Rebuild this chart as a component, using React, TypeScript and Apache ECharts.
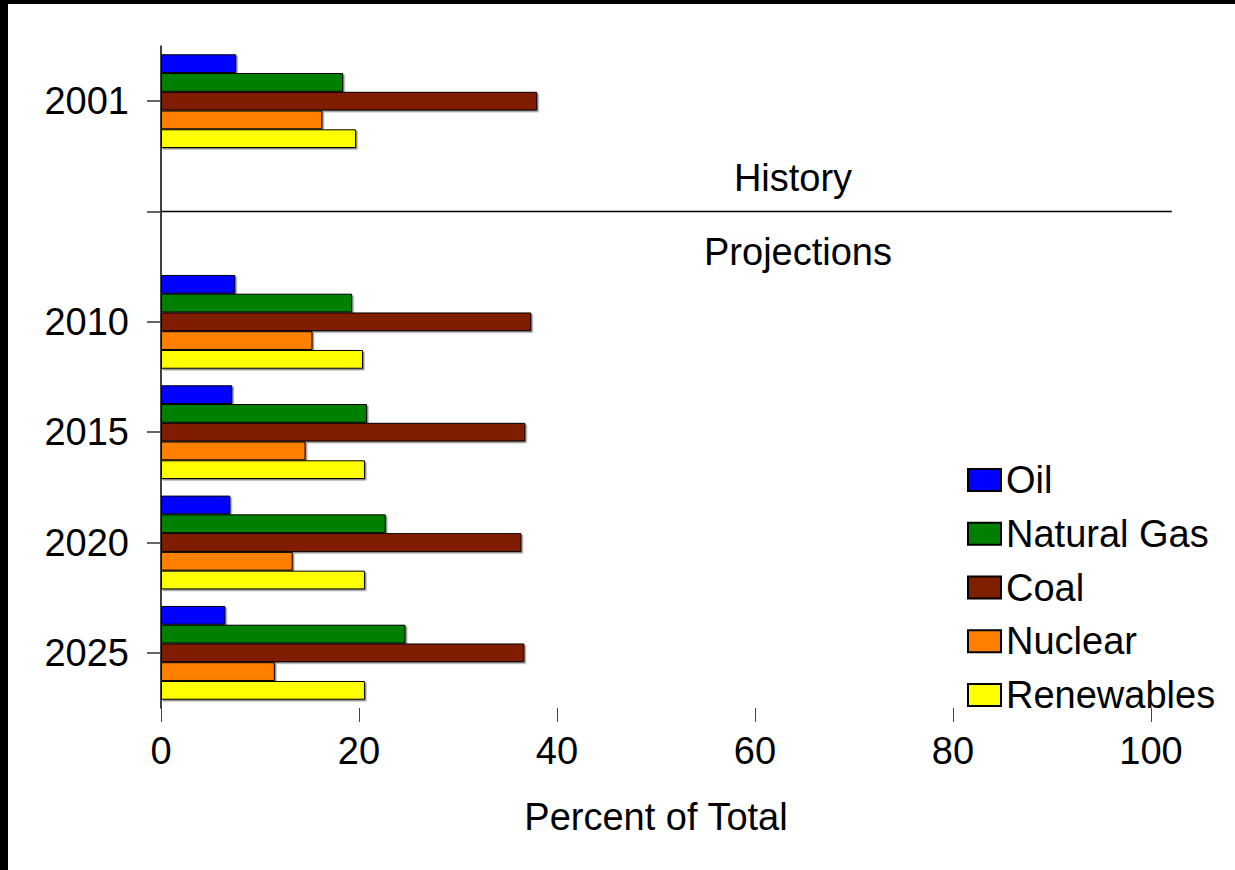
import React, { useEffect, useRef } from "react";
import * as echarts from "echarts";

// Share of electricity generation by fuel, history (2001) and projections
const years = ["2001", "", "2010", "2015", "2020", "2025"];
const fuelNames = ["Oil", "Natural Gas", "Coal", "Nuclear", "Renewables"];
const fuelColors = ["#0000FF", "#008000", "#801E00", "#FF8000", "#FFFF00"];

const oil = [7.6, null, 7.5, 7.2, 7.0, 6.5];
const naturalGas = [18.4, null, 19.3, 20.8, 22.7, 24.7];
const coal = [38.0, null, 37.4, 36.8, 36.4, 36.7];
const nuclear = [16.3, null, 15.3, 14.6, 13.3, 11.5];
const renewables = [19.7, null, 20.4, 20.6, 20.6, 20.6];

const xTicks = { min: 0, max: 100, interval: 20 };

// the divider sits on the empty category and runs a little past the axis end
const dividerIndex = 1;
const dividerEnd = 102.1;

const FONT = "'Liberation Sans', Arial, sans-serif";
const FS = 38;

export default function App() {
  const ref = useRef<HTMLDivElement>(null);

  useEffect(() => {
    if (!ref.current) return;
    const chart = echarts.init(ref.current, undefined, { renderer: "svg" });
    const values = [oil, naturalGas, coal, nuclear, renewables];

    const series: any[] = fuelNames.map((name, i) => ({
      name,
      type: "bar",
      data: values[i],
      barGap: "0%",
      barCategoryGap: "15%",
      itemStyle: {
        color: fuelColors[i],
        borderColor: "#000",
        borderWidth: 1,
        shadowColor: "rgba(0,0,0,0.45)",
        shadowOffsetX: 1.5,
        shadowOffsetY: 1.5,
        shadowBlur: 0,
      },
    }));

    const textStyle = (text: string, x: number, y: number) => ({
      type: "text",
      x,
      y,
      style: { text, fontSize: FS, fill: "#000", fontFamily: FONT, align: "center", verticalAlign: "middle" },
    });

    chart.setOption({
      animation: false,
      backgroundColor: "#fff",
      textStyle: { fontFamily: FONT },
      grid: { left: 161, right: 84, top: 46, bottom: 162 },
      legend: {
        orient: "vertical",
        left: 962,
        top: 456,
        icon: "rect",
        itemWidth: 33,
        itemHeight: 22,
        itemGap: 15.75,
        textStyle: { fontSize: FS, color: "#000", fontFamily: FONT, lineHeight: FS },
        data: fuelNames,
      },
      xAxis: {
        type: "value",
        min: xTicks.min,
        max: xTicks.max,
        interval: xTicks.interval,
        axisLine: { show: false },
        axisTick: { show: true, length: 14, lineStyle: { color: "#444", width: 1 } },
        splitLine: { show: false },
        axisLabel: { fontSize: FS, color: "#000", margin: 24, fontFamily: FONT },
        name: "Percent of Total",
        nameLocation: "middle",
        nameGap: 90,
        nameTextStyle: { fontSize: FS, color: "#000", fontFamily: FONT },
      },
      yAxis: {
        type: "category",
        inverse: true,
        data: years,
        axisLine: { show: true, lineStyle: { color: "#000", width: 1.5 } },
        axisTick: { show: true, alignWithLabel: true, length: 14, lineStyle: { color: "#333", width: 1.5 } },
        axisLabel: { fontSize: FS, color: "#000", margin: 32, fontFamily: FONT },
      },
      graphic: [textStyle("History", 793, 178), textStyle("Projections", 798, 252)],
      series,
    });

    // divider line between history and projections, placed through the axes
    const y = chart.convertToPixel({ yAxisIndex: 0 }, dividerIndex) as number;
    const x0 = chart.convertToPixel({ xAxisIndex: 0 }, xTicks.min) as number;
    const x1 = chart.convertToPixel({ xAxisIndex: 0 }, dividerEnd) as number;
    chart.setOption({
      graphic: [
        textStyle("History", 793, 178),
        textStyle("Projections", 798, 252),
        {
          type: "line",
          shape: { x1: x0, y1: y, x2: x1, y2: y },
          style: { stroke: "#000", lineWidth: 1.5 },
          silent: true,
        },
      ],
    });

    return () => chart.dispose();
  }, []);

  return (
    <div style={{ position: "fixed", left: 0, top: 0, right: 0, bottom: 0, background: "#fff", overflow: "hidden" }}>
      <div ref={ref} style={{ position: "absolute", left: 0, top: 0, width: 1235, height: 870 }} />
      <div style={{ position: "absolute", left: 0, top: 0, width: 1235, height: 4, background: "#000" }} />
      <div style={{ position: "absolute", left: 0, top: 0, width: 8, height: 870, background: "#000" }} />
    </div>
  );
}
